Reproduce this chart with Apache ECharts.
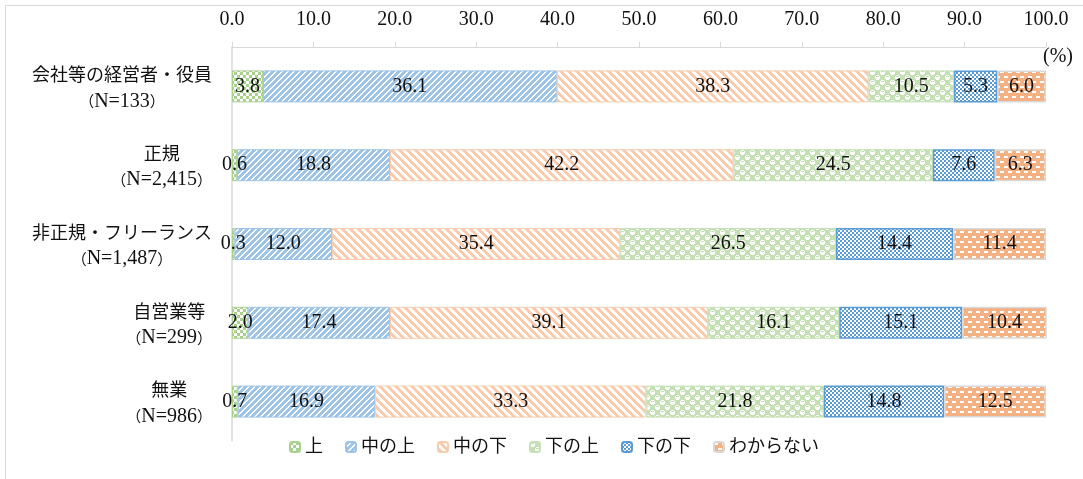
<!DOCTYPE html>
<html><head><meta charset="utf-8">
<script src="https://cdn.jsdelivr.net/npm/echarts@6/dist/echarts.min.js"></script>
<style>html,body{margin:0;padding:0;background:#fff}#c{width:1083px;height:479px}</style>
</head><body><div id="c"></div>
<script>
// ---- data ----
const categories = ['会社等の経営者・役員', '正規', '非正規・フリーランス', '自営業等', '無業'];
const sampleSizes = ['133', '2,415', '1,487', '299', '986'];
const seriesNames = ['上', '中の上', '中の下', '下の上', '下の下', 'わからない'];
const upper        = [3.8, 0.6, 0.3, 2.0, 0.7];
const upperMiddle  = [36.1, 18.8, 12.0, 17.4, 16.9];
const lowerMiddle  = [38.3, 42.2, 35.4, 39.1, 33.3];
const upperLower   = [10.5, 24.5, 26.5, 16.1, 21.8];
const lowerLower   = [5.3, 7.6, 14.4, 15.1, 14.8];
const unknown      = [6.0, 6.3, 11.4, 10.4, 12.5];
const seriesValues = [upper, upperMiddle, lowerMiddle, upperLower, lowerLower, unknown];

// ---- patterns ----
function tile(w, h, bg, fg, fn) {
  const c = document.createElement('canvas');
  c.width = w; c.height = h;
  const g = c.getContext('2d');
  g.fillStyle = bg; g.fillRect(0, 0, w, h);
  g.fillStyle = fg;
  for (let y = 0; y < h; y++) for (let x = 0; x < w; x++) if (fn(x, y)) g.fillRect(x, y, 1, 1);
  return { image: c, repeat: 'repeat' };
}
const patterns = [
  tile(6, 6, '#ffffff', '#a9d18e', (x, y) => (Math.floor(x / 3) + Math.floor(y / 3)) % 2 === 0),
  tile(6, 6, '#ffffff', '#9dc3e6', (x, y) => (x + y) % 6 < 4),
  tile(8, 8, '#ffffff', '#f8cbad', (x, y) => ((x - y + 8) % 8) < 4),
  tile(10, 10, '#c5e0b4', '#ffffff', (x, y) => {
    const white = (x < 5) === (y < 5);
    if (!white) return false;
    const lx = x % 5, ly = y % 5;
    if ((lx === 0 || lx === 4) && (ly === 0 || ly === 4)) return false;
    if (ly === 1 && lx >= 1 && lx <= 3) return false;
    return true;
  }),
  tile(4, 4, '#ffffff', '#5b9bd5', (x, y) => ((x >> 1) + (y >> 1)) % 2 === 0),
  tile(8, 10, '#f4b183', '#ffffff', (x, y) => ((y === 1 || y === 2) && x < 4) || ((y === 6 || y === 7) && x >= 4))
];
const borders = ['#a9d18e', '#9dc3e6', '#f8cbad', '#c5e0b4', '#5b9bd5', '#d9d9d9'];
const borderWidths = [1, 1, 1, 1, 1.5, 1.5];

const FONT = "'Liberation Serif', 'Noto Sans CJK JP', serif";
const CJK = "'Noto Sans CJK JP', sans-serif";

const chart = echarts.init(document.getElementById('c'), null, { renderer: 'canvas' });
chart.setOption({
  animation: false,
  backgroundColor: '#fff',
  textStyle: { fontFamily: FONT },
  graphic: [{
    type: 'rect', silent: true, z: -10,
    shape: { x: 5.5, y: 5.5, width: 1100, height: 500 },
    style: { fill: 'none', stroke: '#d9d9d9', lineWidth: 1 }
  }],
  grid: { left: 232, right: 37, top: 47, bottom: 38, containLabel: false },
  legend: {
    data: seriesNames,
    left: 284, top: 433,
    itemWidth: 10, itemHeight: 10, itemGap: 22,
    textStyle: { fontFamily: FONT, fontSize: 18, color: '#111' }
  },
  xAxis: {
    type: 'value', position: 'top', min: 0, max: 100, interval: 10,
    name: '(%)', nameLocation: 'end', nameGap: -3,
    nameTextStyle: { fontFamily: FONT, fontSize: 20, color: '#111', verticalAlign: 'top', align: 'left' },
    axisLine: { show: true, lineStyle: { color: '#d9d9d9', width: 1 } },
    axisTick: { show: true, length: 5, lineStyle: { color: '#d9d9d9' } },
    splitLine: { show: false },
    axisLabel: { fontFamily: FONT, fontSize: 20, color: '#111', margin: 17, formatter: v => v.toFixed(1) }
  },
  yAxis: {
    type: 'category', inverse: true, data: categories,
    axisLine: { show: true, lineStyle: { color: '#d9d9d9', width: 1.5 } },
    axisTick: { show: false },
    axisLabel: {
      margin: 20, color: '#111', padding: [5, 0, 0, 0],
      formatter: (v, i) => '{a|' + v + '}\n{p|（}{b|N=' + sampleSizes[i] + '}{p|）}',
      rich: {
        a: { fontFamily: FONT, fontSize: 18, lineHeight: 25, align: 'center', color: '#111' },
        p: { fontFamily: CJK, fontSize: 15, lineHeight: 25, align: 'center', color: '#111' },
        b: { fontFamily: FONT, fontSize: 20, lineHeight: 25, align: 'center', color: '#111' }
      }
    }
  },
  series: seriesNames.map((name, k) => ({
    name: name, type: 'bar', stack: 'total', barWidth: 32,
    data: seriesValues[k],
    itemStyle: { color: patterns[k], borderColor: borders[k], borderWidth: borderWidths[k] },
    label: {
      show: true, position: 'inside', fontFamily: FONT, fontSize: 20, color: '#111',
      formatter: p => p.value.toFixed(1)
    }
  }))
});
</script></body></html>
